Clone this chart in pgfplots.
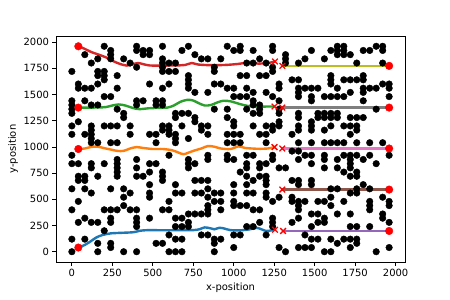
\documentclass[border=0pt]{standalone}
\usepackage{fontspec}
\setmainfont{DejaVu Sans}
\usepackage{pgfplots}
\pgfplotsset{compat=1.18}
\usepackage{pgfplotstable}
\definecolor{tabblue}{HTML}{1F77B4}
\definecolor{taborange}{HTML}{FF7F0E}
\definecolor{tabgreen}{HTML}{2CA02C}
\definecolor{tabred}{HTML}{D62728}
\definecolor{tabpurple}{HTML}{9467BD}
\definecolor{tabbrown}{HTML}{8C564B}
\definecolor{tabpink}{HTML}{E377C2}
\definecolor{tabgray}{HTML}{7F7F7F}
\definecolor{tabolive}{HTML}{BCBD22}

\pgfplotstableread{
x y
80 1880
120 1800
160 1840
200 1960
240 1920
240 1880
240 1840
320 1840
360 1800
400 1960
400 1920
440 1920
480 1920
440 1880
480 1880
400 1760
0 1720
160 1720
200 1720
160 1680
200 1680
200 1640
280 1680
40 1600
40 1560
80 1560
120 1560
160 1600
280 1560
200 1480
240 1480
0 1440
0 1400
0 1360
0 1320
80 1440
120 1400
160 1400
280 1360
320 1320
320 1280
400 1440
440 1440
400 1400
0 1200
40 1240
120 1200
120 1160
200 1200
240 1200
280 1200
360 1200
360 1120
0 1120
80 1120
120 1120
120 1080
120 1040
160 1040
240 1040
280 1040
0 920
0 840
40 840
120 840
120 800
200 840
280 880
280 840
280 800
280 760
400 880
400 800
40 720
40 680
80 720
80 680
160 720
280 720
400 720
440 720
0 600
80 600
120 560
240 600
320 600
320 520
360 560
40 480
0 400
200 400
240 400
280 400
320 440
360 400
400 400
400 320
400 280
400 240
40 280
80 320
120 280
160 280
240 320
240 280
200 200
0 120
80 120
160 80
240 80
240 40
0 0
160 0
320 0
400 0
560 1960
680 1920
720 1960
760 1880
800 1840
840 1840
920 1840
960 1960
560 1840
560 1800
560 1760
560 1720
600 1800
600 1720
640 1800
640 1720
720 1680
720 1640
720 1600
720 1560
880 1760
880 1720
880 1600
920 1600
960 1560
480 1600
560 1560
600 1600
760 1520
840 1520
520 1440
520 1400
560 1440
560 1400
640 1320
680 1320
640 1280
720 1320
760 1280
760 1240
880 1360
960 1360
960 1280
560 1200
560 1160
600 1200
600 1160
600 1120
680 1200
800 1200
800 1160
840 1200
840 1120
480 1120
520 1120
520 1040
640 1120
640 1080
640 1040
720 1080
960 1120
960 1040
480 840
520 840
480 760
600 920
720 880
720 840
760 840
720 800
840 920
840 880
960 880
960 920
560 760
560 720
560 680
480 640
480 560
480 520
640 640
680 560
640 560
760 680
800 680
840 680
800 560
760 560
840 600
840 520
880 560
920 560
880 480
920 480
560 400
600 480
600 400
480 320
640 320
680 320
640 240
680 240
720 360
760 360
800 360
840 360
720 280
720 240
840 440
840 400
920 400
520 80
560 80
600 160
640 120
680 120
600 0
640 0
680 0
800 160
840 160
880 120
880 80
880 0
920 120
1000 1920
1040 1960
1040 1920
1120 1920
1240 1960
1240 1920
1320 1880
1320 1840
1320 1800
1480 1920
1400 1800
1440 1840
1160 1840
1200 1800
1080 1800
1120 1800
1240 1760
1240 1720
1040 1680
1080 1680
1160 1680
1200 1680
1280 1600
1280 1560
1360 1640
1400 1640
1400 1560
1400 1520
1400 1480
1440 1560
1480 1560
1520 1560
1480 1480
1480 1440
1000 1560
1080 1560
1120 1520
1200 1520
1240 1480
1000 1480
1040 1480
1080 1480
1120 1440
1120 1400
1160 1400
1280 1440
1080 1360
1120 1320
1160 1360
1160 1320
1280 1360
1280 1320
1280 1240
1280 1200
1400 1320
1400 1280
1480 1240
1480 1200
1480 1160
1000 1240
1000 1200
1120 1200
1200 1200
1240 1200
1240 1160
1000 1120
1040 1120
1000 1040
1040 1040
1160 1120
1200 1120
1200 1040
1360 1120
1400 1200
1400 1160
1400 1040
1480 1040
1000 880
1080 920
1120 920
1240 920
1240 880
1360 960
1400 960
1400 880
1440 920
1480 920
1480 840
1080 840
1080 800
1040 760
1160 840
1160 800
1160 720
1200 840
1280 800
1320 800
1080 720
1080 640
1120 680
1200 720
1200 680
1000 640
1000 560
1200 640
1200 560
1200 520
1080 560
1120 560
1360 680
1400 680
1400 640
1480 680
1480 640
1360 520
1360 480
1400 480
1400 440
1400 400
1440 480
1240 480
1280 520
1000 480
1000 440
1040 440
1080 440
1120 400
1160 400
1240 320
1240 280
1240 240
1160 280
1080 240
1120 240
1360 280
1400 320
1480 360
1520 360
1480 240
1520 280
1000 160
1040 160
1200 160
1440 160
1480 120
1400 40
1440 40
1480 40
1000 40
1280 40
1320 0
1640 1960
1680 1960
1640 1920
1680 1920
1640 1880
1680 1880
1600 1920
1560 1840
1720 1880
1760 1800
1800 1920
1840 1920
1880 1960
1920 1960
1920 1920
1920 1800
1600 1680
1600 1640
1600 1600
1640 1560
1680 1640
1720 1640
1760 1640
1800 1680
1800 1640
1560 1480
1600 1480
1640 1480
1680 1480
1720 1520
1800 1560
1800 1520
1800 1440
1840 1560
1880 1560
1920 1600
1960 1600
1960 1560
1960 1480
1520 1320
1560 1320
1600 1320
1640 1320
1520 1280
1560 1280
1600 1280
1640 1280
1720 1280
1760 1280
1800 1280
1880 1360
1560 1160
1600 1200
1680 1200
1720 1200
1760 1200
1760 1160
1720 1120
1560 1040
1600 1040
1640 1040
1680 1040
1760 1040
1840 1040
1920 1040
1560 920
1560 880
1560 800
1640 880
1680 920
1720 920
1720 880
1720 840
1720 800
1760 920
1800 880
1840 920
1880 840
1960 920
1640 800
1680 760
1720 720
1760 720
1760 760
1800 640
1600 600
1640 600
1720 560
1760 600
1760 560
1840 600
1520 480
1560 480
1600 440
1600 520
1680 480
1840 480
1840 440
1840 400
1920 520
1960 480
1960 440
1560 320
1560 280
1640 360
1720 360
1720 240
1760 240
1920 360
1920 320
1960 280
1840 240
1520 120
1600 120
1680 120
1720 120
1760 120
1760 80
1640 80
1720 40
1560 0
1600 0
1880 0
1960 40
}\obstacles

\begin{document}
\fontsize{10}{12}\selectfont
\begin{tikzpicture}
\begin{axis}[
  scale only axis, width=349bp, height=226bp,
  xmin=-98, xmax=2058, ymin=-98, ymax=2058,
  xtick={0,250,...,2000}, ytick={0,250,...,2000},
  tick pos=left, tick align=outside, major tick length=3.5bp,
  axis line style={line width=0.8bp},
  every tick/.style={black, line width=0.8bp},
  /pgf/number format/assume math mode=true,
  /pgf/number format/1000 sep={},
  tick label style={font=\fontsize{10}{12}\selectfont},
  label style={font=\fontsize{10}{12}\selectfont},
  xlabel={x-position}, ylabel={y-position},
  xlabel style={at={(rel axis cs:0.5,-0.115)}, anchor=center},
  ylabel style={at={(rel axis cs:-0.1232,0.5)}, anchor=center},
]
\addplot[only marks, mark=*, mark size=3.3bp, black, mark options={fill=black}] table[x=x, y=y] {\obstacles};

\addplot[tabred, line width=2.4bp, smooth, tension=0.5] coordinates {
(40,1960) (80,1935) (120,1905) (170,1878) (220,1848) (260,1815) (300,1790) (340,1776) (380,1790) (410,1800) (440,1790) (480,1777) (560,1776) (640,1777) (700,1782) (740,1800) (780,1786) (850,1780) (950,1782) (1030,1792) (1090,1805) (1150,1795) (1210,1800) (1255,1815)};
\addplot[tabolive, line width=2.4bp] coordinates {(1300,1773) (1960,1773)};

\addplot[tabgreen, line width=2.4bp, smooth, tension=0.5] coordinates {
(40,1375) (100,1375) (160,1376) (210,1380) (250,1395) (290,1405) (330,1395) (380,1370) (420,1360) (470,1368) (530,1372) (590,1375) (630,1395) (670,1430) (710,1448) (745,1445) (780,1420) (820,1395) (860,1400) (900,1425) (935,1440) (980,1435) (1040,1408) (1090,1390) (1150,1385) (1200,1385) (1252,1385)};
\addplot[tabgray, line width=2.4bp] coordinates {(1300,1375) (1960,1375)};

\addplot[taborange, line width=2.4bp, smooth, tension=0.5] coordinates {
(40,980) (80,985) (120,1000) (160,1002) (200,988) (240,975) (280,962) (320,962) (360,985) (400,998) (440,990) (500,980) (560,980) (620,968) (660,945) (690,930) (720,945) (760,967) (800,985) (840,1008) (880,1002) (920,985) (980,980) (1030,1005) (1070,990) (1150,982) (1210,985) (1252,998)};
\addplot[tabpink, line width=2.4bp] coordinates {(1300,985) (1960,985)};

\addplot[tabbrown, line width=2.4bp] coordinates {(1300,593) (1960,593)};

\addplot[tabblue, line width=2.4bp, smooth, tension=0.5] coordinates {
(40,40) (80,65) (115,98) (150,135) (190,160) (240,175) (300,180) (380,186) (420,200) (470,206) (550,205) (650,205) (750,206) (790,215) (820,232) (855,224) (880,214) (910,228) (940,222) (980,206) (1050,205) (1100,214) (1140,228) (1170,215) (1200,198) (1230,203) (1255,210)};
\addplot[tabpurple, line width=2.4bp] coordinates {(1305,198) (1960,198)};

\addplot[only marks, mark=x, mark size=4bp, red, mark options={line width=1.3bp}] coordinates {
(1255,1815) (1300,1773) (1252,1385) (1300,1375) (1252,998) (1300,985) (1300,593) (1255,210) (1305,198)};

\addplot[only marks, mark=*, mark size=3.8bp, red, mark options={fill=red, draw=red}] coordinates {
(40,1960) (40,1375) (40,980) (40,40) (1960,1773) (1960,1375) (1960,985) (1960,593) (1960,198)};
\end{axis}
\path ([shift={(-56bp,-38bp)}]current axis.south west) rectangle ([shift={(45bp,36bp)}]current axis.north east);
\end{tikzpicture}
\end{document}
